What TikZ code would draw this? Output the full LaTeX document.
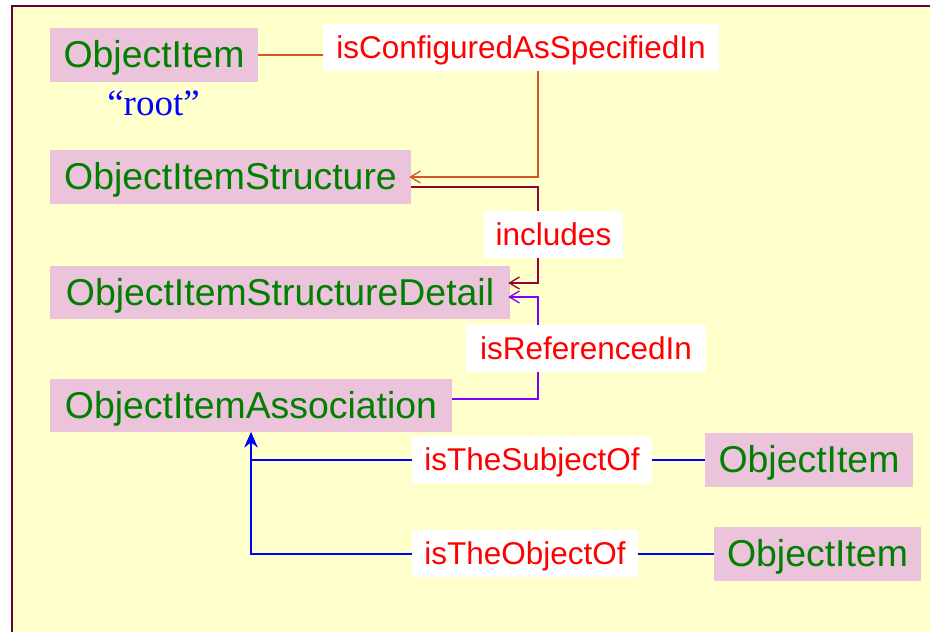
\documentclass[tikz,border=0pt]{standalone}
\usepackage{fontspec}
\setmainfont{Liberation Sans}
\newfontfamily\rootserif{Liberation Serif}
\usetikzlibrary{arrows.meta,calc}

\definecolor{pageyellow}{RGB}{255,255,204}
\definecolor{framemaroon}{RGB}{102,0,51}
\definecolor{boxpink}{RGB}{235,195,218}
\definecolor{itemgreen}{RGB}{0,128,0}
\definecolor{relred}{RGB}{255,0,0}
\definecolor{lineorange}{RGB}{210,88,40}
\definecolor{linemaroon}{RGB}{153,0,51}
\definecolor{linepurple}{RGB}{127,0,255}
\definecolor{lineblue}{RGB}{0,0,255}

\tikzset{
  entity/.style={fill=boxpink, text=itemgreen, inner sep=0pt,
    font=\fontsize{37.4}{40}\selectfont,
    text height=27pt, text depth=2pt, minimum height=54pt},
  relation/.style={fill=white, text=relred, inner sep=0pt,
    font=\fontsize{31.5}{34}\selectfont,
    text height=22.7pt, text depth=0pt, minimum height=47pt},
  link/.style={line width=1.5pt},
  openhead/.style={-{Straight Barb[length=10pt,width=12pt,line width=1.3pt]}, shorten >=-2pt},
  filledhead/.style={-{Stealth[length=15pt,width=13pt,inset=5pt]}}
}

\begin{document}
\begin{tikzpicture}[x=1pt,y=-1pt]
  \useasboundingbox (0,0) rectangle (930,632);
  % page and frame
  \fill[white] (0,0) rectangle (930,632);
  \fill[pageyellow] (12,6) rectangle (940,640);
  \draw[framemaroon, line width=1.5pt] (940,6) -- (12,6) -- (12,640);

  % entities
  \node[entity, minimum width=208pt] (b1) at (154,55) {ObjectItem};
  \node[text=lineblue, font=\rootserif\fontsize{37}{40}\selectfont, anchor=base]
    (rootlbl) at (153.5,115) {“root”};
  \node[entity, minimum width=361pt] (b2) at (230.5,177) {ObjectItemStructure};
  \node[entity, minimum width=460pt, minimum height=53pt] (b3) at (280,292.5) {ObjectItemStructureDetail};
  \node[entity, minimum width=402pt, minimum height=53pt] (b4) at (251,405.5) {ObjectItemAssociation};
  \node[entity, minimum width=208pt] (b5) at (809,460) {ObjectItem};
  \node[entity, minimum width=207pt] (b6) at (817.5,554) {ObjectItem};

  % shared vertical run of the structure links
  \coordinate (trunk) at (538,0);

  % connectors
  \draw[link, lineorange, openhead]
    (b1.east) -- (b1.east -| trunk) -- (b2.east -| trunk) -- (b2.east);
  \draw[link, linemaroon, openhead]
    ([yshift=-10pt]b2.east) -- ([yshift=-10pt]b2.east -| trunk)
    -- ([yshift=9.5pt]b3.east -| trunk) -- ([yshift=9.5pt]b3.east);
  \draw[link, linepurple, openhead]
    ([yshift=6.5pt]b4.east) -- ([yshift=6.5pt]b4.east -| trunk)
    -- ([yshift=-4.5pt]b3.east -| trunk) -- ([yshift=-4.5pt]b3.east);
  \draw[link, lineblue, filledhead]
    (b5.west) -- (b5.west -| b4.south) -- (b4.south);
  \draw[link, lineblue, filledhead]
    (b6.west) -- (b6.west -| b4.south) -- (b4.south);

  % relation labels on top of the lines
  \node[relation, minimum width=396pt] (r1) at (521,47.5) {isConfiguredAsSpecifiedIn};
  \node[relation, minimum width=139pt] (r2) at (553.5,234.5) {includes};
  \node[relation, minimum width=240pt] (r3) at (586,348.5) {isReferencedIn};
  \node[relation, minimum width=240pt] (r4) at (532,459.5) {isTheSubjectOf};
  \node[relation, minimum width=226pt] (r5) at (525,553.5) {isTheObjectOf};
\end{tikzpicture}
\end{document}
